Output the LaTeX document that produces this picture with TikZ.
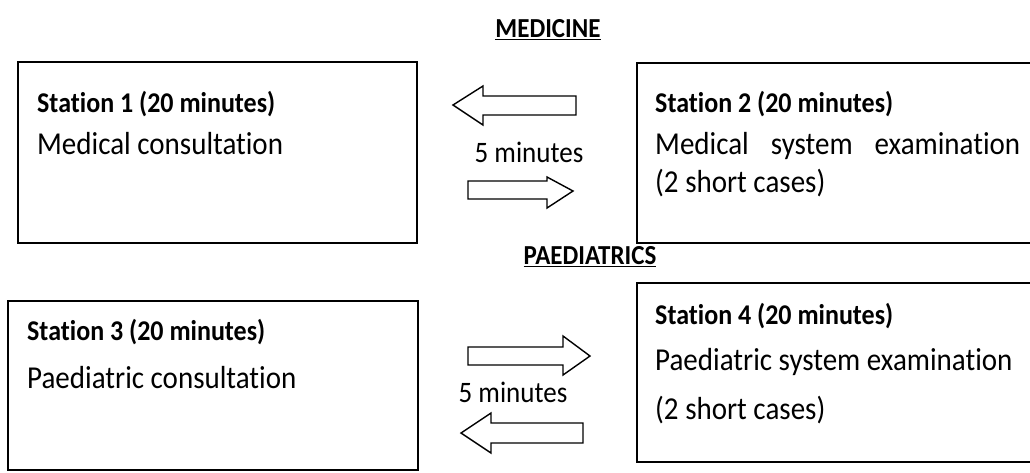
\documentclass[tikz,border=0pt]{standalone}
\usepackage{fontspec}
\setmainfont{Carlito}[Ligatures=NoCommon]
\newcommand{\tallx}[1]{\scalebox{1}[1.1]{#1}}
\begin{document}
\begin{tikzpicture}[x=1pt,y=-1pt,
  box/.style={draw, line width=1.8pt},
  blk/.style={draw, line width=1.4pt, line join=miter},
  txt/.style={anchor=west, inner sep=0pt, font=\fontsize{29}{34}\selectfont},
  hd/.style={anchor=west, inner sep=0pt, font=\fontsize{26}{31}\selectfont\bfseries},
  mins/.style={inner sep=0pt, font=\fontsize{27}{32}\selectfont},
  ttl/.style={inner sep=0pt, font=\fontsize{25}{30}\selectfont\bfseries}]
\useasboundingbox (0,0) rectangle (1030,472);
\begin{scope}
\clip (0,0) rectangle (1030,472);
% titles
\node[ttl] (med) at (548,30) {\tallx{\underline{MEDICINE}}};
\node[ttl] (paed) at (590,257) {\tallx{\underline{PAEDIATRICS}}};
% boxes
\draw[box] (18,62) rectangle (417,243);
\draw[box] (637,63) rectangle (1036,243);
\draw[box] (8,301) rectangle (418,470);
\draw[box] (637,283) rectangle (1036,462);
% station 1
\node[hd] (s1) at (37,104) {\tallx{Station 1 (20 minutes)}};
\node[txt] (s1t) at (37,144) {\tallx{Medical consultation}};
% station 2
\node[hd] (s2) at (655,104) {\tallx{Station 2 (20 minutes)}};
\node[txt] (s2t) at (655,146) {\tallx{\makebox[365pt][s]{Medical system examination}}};
\node[txt] (s2c) at (655,183) {\tallx{(2 short cases)}};
% station 3
\node[hd] (s3) at (27,332) {\tallx{Station 3 (20 minutes)}};
\node[txt] (s3t) at (27,378) {\tallx{Paediatric consultation}};
% station 4
\node[hd] (s4) at (655,316) {\tallx{Station 4 (20 minutes)}};
\node[txt] (s4t) at (655,362) {\tallx{Paediatric system examination}};
\node[txt] (s4c) at (655,410) {\tallx{(2 short cases)}};
% 5 minutes labels
\node[mins] (m1) at (529,152) {\tallx{5 minutes}};
\node[mins] (m2) at (513,392) {\tallx{5 minutes}};
% block arrows (top)
\draw[blk] (453,105) -- (483,86) -- (483,96) -- (576,96) -- (576,115) -- (483,115) -- (483,125) -- cycle;
\draw[blk] (468,181) -- (547,181) -- (547,177) -- (573,191) -- (547,208) -- (547,199) -- (468,199) -- cycle;
% block arrows (bottom)
\draw[blk] (468,347) -- (563,347) -- (563,336) -- (590,356) -- (563,375) -- (563,365) -- (468,365) -- cycle;
\draw[blk] (461,433) -- (491,413) -- (491,423) -- (583,423) -- (583,443) -- (491,443) -- (491,453) -- cycle;
\end{scope}
\end{tikzpicture}
\end{document}
